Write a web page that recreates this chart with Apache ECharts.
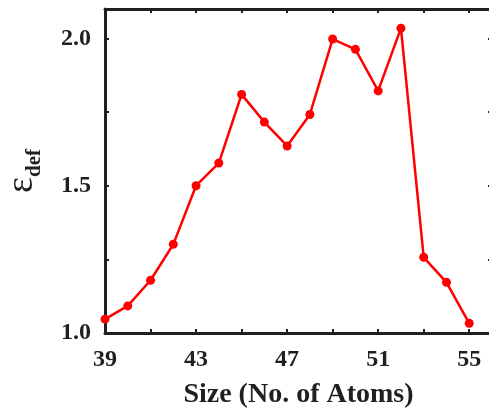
<!DOCTYPE html>
<html>
<head>
<meta charset="utf-8">
<script src="https://cdn.jsdelivr.net/npm/echarts@6/dist/echarts.min.js"></script>
<style>
  html, body { margin: 0; padding: 0; background: #ffffff; }
  #chart { width: 489px; height: 411px; }
</style>
</head>
<body>
<div id="chart"></div>
<script>
// Cluster sizes (number of atoms) on the x axis
const sizes = ['39','40','41','42','43','44','45','46','47','48','49','50','51','52','53','54','55','56'];
// Deformation parameter for each cluster size 39..55
const epsDef = [1.047, 1.092, 1.179, 1.301, 1.500, 1.577, 1.810, 1.716, 1.635, 1.742,
                1.998, 1.963, 1.822, 2.035, 1.257, 1.172, 1.033];
// Labelled y ticks
const yTickLabels = [1.0, 1.5, 2.0];

const ink = '#231f20';
const serif = '"Liberation Serif", "DejaVu Serif", serif';

const axisLine = { show: true, lineStyle: { color: ink, width: 3 } };
const tickInside = { show: true, inside: true, length: 4, lineStyle: { color: ink, width: 2 } };

const chart = echarts.init(document.getElementById('chart'), null, { renderer: 'canvas' });
chart.setOption({
  animation: false,
  backgroundColor: '#ffffff',
  // the frame runs slightly past the right edge of the canvas
  grid: { left: 105, top: 9, right: -3, bottom: 78, outerBoundsMode: 'none', containLabel: false },
  xAxis: [
    {
      type: 'category',
      data: sizes,
      boundaryGap: false,
      position: 'bottom',
      axisLine: axisLine,
      axisTick: Object.assign({ interval: 1 }, tickInside),
      axisLabel: {
        interval: 3,
        margin: 15,
        color: ink,
        fontFamily: serif,
        fontWeight: 'bold',
        fontSize: 24
      },
      splitLine: { show: false },
      name: 'Size (No. of Atoms)',
      nameLocation: 'middle',
      nameGap: 48,
      nameTextStyle: { color: ink, fontFamily: serif, fontWeight: 'bold', fontSize: 28 }
    },
    {
      type: 'category',
      data: sizes,
      boundaryGap: false,
      position: 'top',
      axisLine: axisLine,
      axisTick: Object.assign({ interval: 1 }, tickInside),
      axisLabel: { show: false },
      splitLine: { show: false }
    }
  ],
  yAxis: [
    {
      type: 'value',
      min: 1.0,
      max: 2.1,
      interval: 0.25,
      position: 'left',
      axisLine: axisLine,
      axisTick: tickInside,
      axisLabel: {
        margin: 14,
        color: ink,
        fontFamily: serif,
        fontWeight: 'bold',
        fontSize: 24,
        formatter: function (v) {
          return yTickLabels.some(function (t) { return Math.abs(t - v) < 1e-6; }) ? v.toFixed(1) : '';
        }
      },
      splitLine: { show: false },
      name: '{e|ε}{s|def}',
      nameLocation: 'middle',
      nameRotate: 90,
      nameGap: 64,
      nameTextStyle: {
        color: ink,
        rich: {
          e: { fontFamily: serif, fontSize: 38, color: ink, verticalAlign: 'bottom' },
          s: { fontFamily: serif, fontSize: 21, fontWeight: 'bold', color: ink, verticalAlign: 'bottom', padding: [0, 0, -4, 0] }
        }
      }
    },
    {
      type: 'value',
      min: 1.0,
      max: 2.1,
      interval: 0.25,
      position: 'right',
      axisLine: axisLine,
      axisTick: tickInside,
      axisLabel: { show: false },
      splitLine: { show: false }
    }
  ],
  series: [
    {
      type: 'line',
      xAxisIndex: 0,
      yAxisIndex: 0,
      data: epsDef,
      symbol: 'circle',
      symbolSize: 9,
      itemStyle: { color: '#ff0000' },
      lineStyle: { color: '#ff0000', width: 2.5 }
    }
  ]
});
</script>
</body>
</html>
